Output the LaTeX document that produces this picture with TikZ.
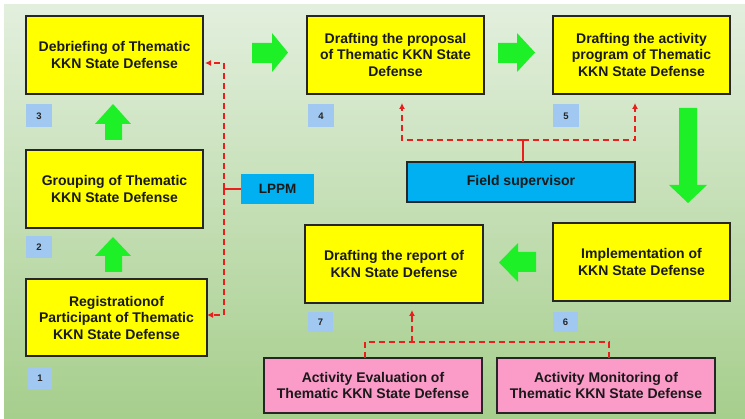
\documentclass[tikz,border=0pt]{standalone}
\usepackage{fontspec}
\setmainfont{Liberation Sans}
\usetikzlibrary{arrows.meta}
\definecolor{bgtop}{RGB}{226,239,221}
\definecolor{bgbot}{RGB}{166,206,140}
\definecolor{boxyel}{RGB}{255,255,0}
\definecolor{boxpink}{RGB}{250,155,200}
\definecolor{boxblue}{RGB}{0,176,240}
\definecolor{lblblue}{RGB}{160,200,240}
\definecolor{garrowc}{RGB}{30,240,40}
\definecolor{rline}{RGB}{235,30,30}
\begin{document}
\begin{tikzpicture}[x=1pt,y=-1pt,
  stepbox/.style={draw=black!85, line width=1.3pt, fill=boxyel, minimum width=177pt,
    minimum height=78pt, inner sep=0pt, outer sep=0pt, align=center,
    font=\bfseries\fontsize{14}{16.5}\selectfont, text=black!90},
  pinkbox/.style={stepbox, fill=boxpink, minimum width=218pt, minimum height=55pt},
  fsbox/.style={stepbox, fill=boxblue, minimum width=228pt, minimum height=40pt},
  lppmbox/.style={fill=boxblue, minimum width=73pt, minimum height=30pt, inner sep=0pt,
    outer sep=0pt, font=\bfseries\fontsize{13.5}{15}\selectfont, text=black!90},
  numlbl/.style={fill=lblblue, minimum width=26pt, minimum height=23pt, inner sep=0pt,
    outer sep=0pt, font=\bfseries\fontsize{9.5}{10}\selectfont, text=black!85},
  rdash/.style={draw=rline, line width=1.6pt, dash pattern=on 6pt off 4pt,
    -{Latex[length=6pt,width=6pt]}},
  rdashplain/.style={draw=rline, line width=1.6pt, dash pattern=on 6pt off 4pt},
  rsolid/.style={draw=rline, line width=1.6pt},
  greenarrow/.style={fill=garrowc}
]
\useasboundingbox (0,0) rectangle (745,419);
\fill[white] (0,0) rectangle (745,419);
\shade[top color=bgtop, bottom color=bgbot] (4,5) rectangle (745,419);

% step boxes
\node[stepbox] (b3) at (114.5,55) {Debriefing of Thematic\\KKN State Defense};
\node[stepbox] (b4) at (395.5,55) {Drafting the proposal\\of Thematic KKN State\\Defense};
\node[stepbox] (b5) at (641.5,55) {Drafting the activity\\program of Thematic\\KKN State Defense};
\node[stepbox] (b2) at (114.5,189) {Grouping of Thematic\\KKN State Defense};
\node[stepbox, minimum width=181pt, minimum height=77pt] (b1) at (116.5,317.5) {Registrationof\\Participant of Thematic\\KKN State Defense};
\node[stepbox, minimum width=178pt] (b7) at (394,264) {Drafting the report of\\KKN State Defense};
\node[stepbox] (b6) at (641.5,262) {Implementation of\\KKN State Defense};

\node[fsbox] (fs) at (521,182) {Field supervisor};
\node[lppmbox] (lp) at (277.5,189) {LPPM};
\node[pinkbox] (ev) at (373,385.5) {Activity Evaluation of\\Thematic KKN State Defense};
\node[pinkbox] (mo) at (606,385.5) {Activity Monitoring of\\Thematic KKN State Defense};

% number labels
\node[numlbl] (n3) at (39,116) {3};
\node[numlbl] (n4) at (321,116) {4};
\node[numlbl] (n5) at (566,116) {5};
\node[numlbl, minimum height=22pt] (n2) at (39,247.5) {2};
\node[numlbl, minimum width=24pt, minimum height=22pt] (n1) at (40,378) {1};
\node[numlbl, minimum width=25pt, minimum height=20pt] (n7) at (320.5,322) {7};
\node[numlbl, minimum width=25pt, minimum height=20pt] (n6) at (565.5,322) {6};

% green block arrows
\fill[greenarrow] (105,140) -- (105,124) -- (95,124) -- (113,104) -- (131,124) -- (122,124) -- (122,140) -- cycle;
\fill[greenarrow] (105,272) -- (105,256) -- (95,256) -- (113,237) -- (131,256) -- (122,256) -- (122,272) -- cycle;
\fill[greenarrow] (252,43) -- (272,43) -- (272,33) -- (288,52.5) -- (272,72) -- (272,63) -- (252,63) -- cycle;
\fill[greenarrow] (498,43) -- (517,43) -- (517,33) -- (535,52.5) -- (517,72) -- (517,63) -- (498,63) -- cycle;
\fill[greenarrow] (679,108) -- (697,108) -- (697,185) -- (707,185) -- (688,203) -- (669,185) -- (679,185) -- cycle;
\fill[greenarrow] (536,252) -- (518,252) -- (518,243) -- (499,262.5) -- (518,282) -- (518,272) -- (536,272) -- cycle;

% LPPM connectors
\coordinate (jl) at (224,189);
\draw[rsolid] (lp.west) -- (jl);
\draw[rdash] (jl) |- ([yshift=-8pt,xshift=2pt]b3.east);
\draw[rdash] (jl) |- ([yshift=2.5pt]b1.east);

% field supervisor connectors
\coordinate (jf) at (523,140);
\draw[rsolid] (fs.north -| jf) -- (jf);
\draw[rdash, shorten >=9pt] (jf) -| ([xshift=6.5pt]b4.south);
\draw[rdash, shorten >=9pt] (jf) -| ([xshift=-6.5pt]b5.south);

% evaluation / monitoring connectors
\coordinate (je) at (412,342);
\draw[rdashplain] ([xshift=-8pt]ev.north) |- (je) -| ([xshift=3pt]mo.north);
\draw[rdash, shorten >=7pt] (je) -- ([xshift=18pt]b7.south);
\end{tikzpicture}
\end{document}
